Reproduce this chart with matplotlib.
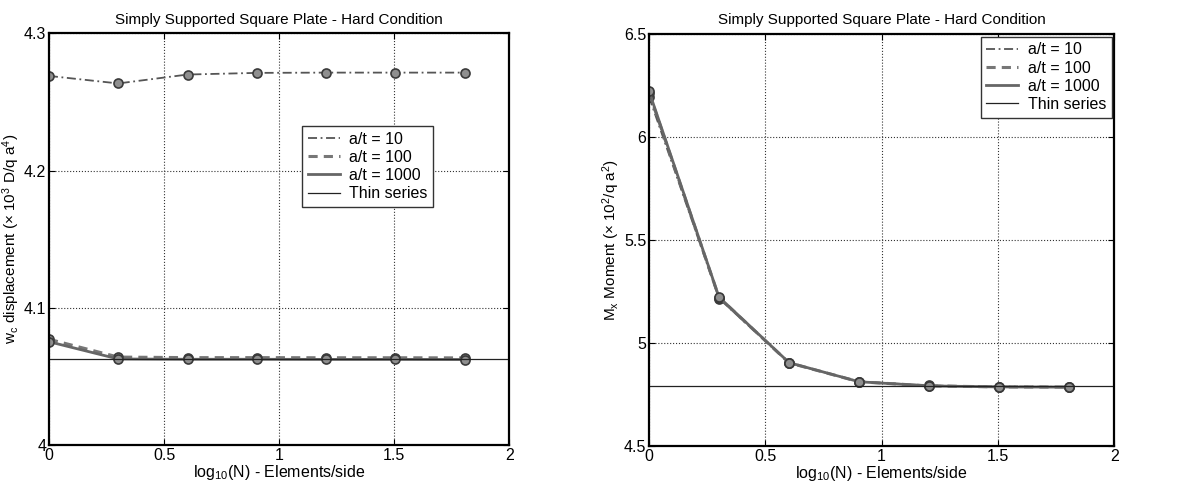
import matplotlib.pyplot as plt

plt.rcParams['font.family'] = ['Liberation Sans', 'DejaVu Sans']
plt.rcParams['mathtext.fontset'] = 'custom'
plt.rcParams['mathtext.rm'] = 'Liberation Sans'
plt.rcParams['mathtext.it'] = 'Liberation Sans'

# log10(N), N = 1, 2, 4, ..., 64 elements per side
log_n = [0.0, 0.301, 0.602, 0.903, 1.204, 1.505, 1.806]

# centre displacement (x 10^3 D/q a^4)
w_10 = [4.2690, 4.2635, 4.2700, 4.2712, 4.2714, 4.2714, 4.2714]
w_100 = [4.0770, 4.0640, 4.0636, 4.0636, 4.0635, 4.0635, 4.0634]
w_1000 = [4.0752, 4.0626, 4.0624, 4.0624, 4.0623, 4.0623, 4.0622]
w_thin = 4.0623

# Mx moment (x 10^2 / q a^2)
m_10 = [6.195, 5.215, 4.902, 4.812, 4.793, 4.788, 4.786]
m_100 = [6.215, 5.220, 4.903, 4.811, 4.791, 4.786, 4.785]
m_1000 = [6.222, 5.222, 4.904, 4.811, 4.791, 4.786, 4.785]
m_thin = 4.789

titles = ['Simply Supported Square Plate - Hard Condition'] * 2
ylabels = [r'w$_{\rm c}$ displacement ($\times$ 10$^3$ D/q a$^4$)',
           r'M$_{\rm x}$ Moment ($\times$ 10$^2$/q a$^2$)']
xlabel = r'log$_{10}$(N) - Elements/side'
legend_labels = ['a/t = 10', 'a/t = 100', 'a/t = 1000', 'Thin series']

fig = plt.figure(figsize=(11.93, 4.91), dpi=100)
ax1 = fig.add_axes([0.041, 0.094, 0.386, 0.838])
ax2 = fig.add_axes([0.544, 0.092, 0.390, 0.839])

mk = dict(marker='o', markersize=6.5, markerfacecolor='#8f8f8f',
          markeredgecolor='#3a3a3a', markeredgewidth=1.2)


def draw(ax, s10, s100, s1000, thin, ylim, yticks, ylab):
    ax.plot(log_n, s10, color='#555555', lw=1.3, ls=(0, (5, 2, 1, 2)),
            label=legend_labels[0], **mk)
    ax.plot(log_n, s100, color='#777777', lw=2.2, ls=(0, (3, 2)),
            label=legend_labels[1], **mk)
    ax.plot(log_n, s1000, color='#666666', lw=2.0, ls='-',
            label=legend_labels[2], **mk)
    ax.axhline(thin, color='#222222', lw=0.9, label=legend_labels[3])
    ax.set_xlim(0, 2)
    ax.set_ylim(*ylim)
    ax.set_xticks([0, 0.5, 1, 1.5, 2])
    ax.set_xticklabels(['0', '0.5', '1', '1.5', '2'])
    ax.set_yticks(yticks)
    ax.set_yticklabels([('%g' % v) for v in yticks])
    ax.grid(True, ls=':', color='#333333', lw=0.8)
    ax.tick_params(direction='in', length=4, labelsize=11.5, top=True,
                   right=True, pad=2)
    for sp in ax.spines.values():
        sp.set_linewidth(1.6)
    ax.set_title(titles[0], fontsize=11, pad=7)
    ax.set_xlabel(xlabel, fontsize=11.5, labelpad=0)
    ax.set_ylabel(ylab, fontsize=11, labelpad=1)


draw(ax1, w_10, w_100, w_1000, w_thin, (4.0, 4.3),
     [4.0, 4.1, 4.2, 4.3], ylabels[0])
draw(ax2, m_10, m_100, m_1000, m_thin, (4.5, 6.5),
     [4.5, 5.0, 5.5, 6.0, 6.5], ylabels[1])

leg_kw = dict(fontsize=11.5, fancybox=False, framealpha=1, edgecolor='#333333',
              handlelength=2.0, handletextpad=0.6, borderpad=0.35,
              labelspacing=0.2, borderaxespad=0)
l1 = ax1.legend(loc='upper left', bbox_to_anchor=(0.55, 0.775), **leg_kw)
l2 = ax2.legend(loc='upper right', bbox_to_anchor=(0.995, 0.993), **leg_kw)
for leg in (l1, l2):
    for h in leg.legend_handles:
        h.set_marker('')

fig.savefig('out.png', dpi=100)
